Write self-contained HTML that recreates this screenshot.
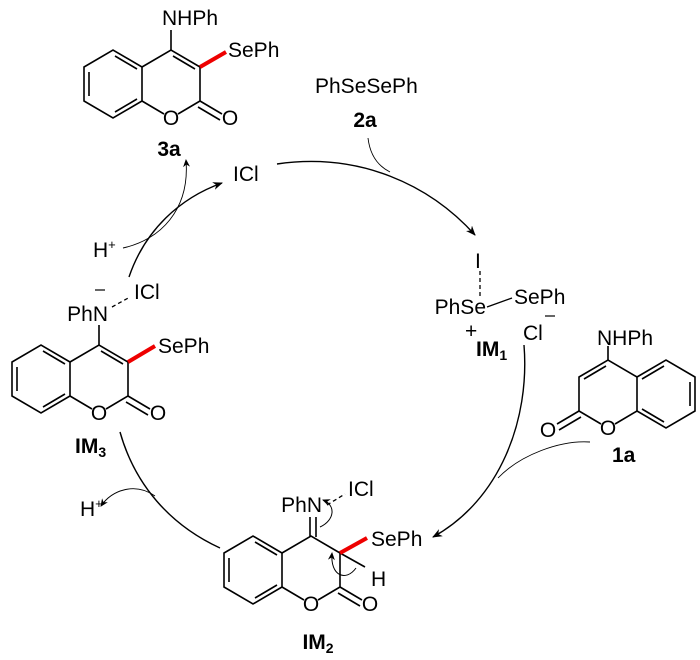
<!DOCTYPE html>
<html><head><meta charset="utf-8"><style>
html,body{margin:0;padding:0;background:#fff;}
svg{display:block;}
text{font-family:"Liberation Sans",Arial,sans-serif;font-size:21px;fill:#000;}
.b{font-weight:bold;}
</style></head><body>
<svg width="700" height="660" viewBox="0 0 700 660" xmlns="http://www.w3.org/2000/svg">
<defs>
<marker id="ah" markerWidth="10" markerHeight="8" refX="9" refY="4" orient="auto" markerUnits="userSpaceOnUse">
<path d="M0,0 L10,4 L0,8 L3,4 Z" fill="#000"/></marker>
<marker id="ahs" markerWidth="8" markerHeight="7" refX="7" refY="3.5" orient="auto" markerUnits="userSpaceOnUse">
<path d="M0,0 L8,3.5 L0,7 L2.5,3.5 Z" fill="#000"/></marker>
<g id="core" fill="none" stroke="#000" stroke-width="1.6">
<path d="M0,0 L0,34 L-29,51 L-58,34 L-58,0 L-29,-17 Z"/>
<path d="M-53,5 L-53,29 M-27,-11 L-5,2 M-5,32 L-27,45"/>
<path d="M0,0 L29,-17 L58,0 L58,34 L36,47 M22,47 L0,34"/>
<path d="M58,34 L80,47 M56,40 L78,53"/>
</g>
</defs>

<!-- 3a -->
<use href="#core" x="142" y="67"/>
<path d="M173,56 L195,69 M171,50 L171,30" stroke="#000" stroke-width="1.6" fill="none"/>
<path d="M200,67 L226,52" stroke="#e00" stroke-width="4"/>
<text x="171" y="125" text-anchor="middle">O</text>
<text x="230" y="125" text-anchor="middle">O</text>
<text x="162" y="25">NHPh</text>
<text x="228" y="57">SePh</text>
<text x="169" y="156" text-anchor="middle" class="b">3a</text>

<!-- 2a -->
<text x="315" y="93">PhSeSePh</text>
<text x="365" y="127" text-anchor="middle" class="b">2a</text>

<!-- ICl top -->
<text x="233" y="181">ICl</text>
<text x="93" y="257">H<tspan dy="-8" font-size="13">+</tspan></text>

<!-- IM1 -->
<text x="475" y="268">I</text>
<path d="M480,271 L480,298" stroke="#000" stroke-width="1.3" stroke-dasharray="4,3"/>
<text x="486" y="314" text-anchor="end">PhSe</text>
<path d="M487,307 L512,298" stroke="#000" stroke-width="1.3"/>
<text x="514" y="304">SePh</text>
<path d="M545,316 L555,316" stroke="#000" stroke-width="1.2"/>
<text x="523" y="340">Cl</text>
<text x="465" y="338" font-size="14">+</text>
<text x="476" y="356" class="b">IM<tspan dy="4" font-size="14">1</tspan></text>

<!-- 1a -->
<use href="#core" transform="translate(637,377) scale(-1,1)"/>
<path d="M606,366 L584,379 M608,360 L608,346" stroke="#000" stroke-width="1.6" fill="none"/>
<text x="608" y="435" text-anchor="middle">O</text>
<text x="548" y="437" text-anchor="middle">O</text>
<text x="597" y="345">NHPh</text>
<text x="612" y="462" class="b">1a</text>

<!-- IM3 -->
<use href="#core" x="70" y="362"/>
<path d="M101,351 L123,364 M99,345 L99,325" stroke="#000" stroke-width="1.6" fill="none"/>
<path d="M128,362 L155,346" stroke="#e00" stroke-width="4"/>
<text x="99" y="420" text-anchor="middle">O</text>
<text x="158" y="420" text-anchor="middle">O</text>
<text x="108" y="321" text-anchor="end">PhN</text>
<path d="M95,290 L105,290" stroke="#000" stroke-width="1.2"/>
<path d="M112,307 L130,297" stroke="#000" stroke-width="1.3" stroke-dasharray="4,3"/>
<text x="134" y="299">ICl</text>
<text x="158" y="353">SePh</text>
<text x="75" y="453" class="b">IM<tspan dy="4" font-size="14">3</tspan></text>

<!-- IM2 -->
<use href="#core" x="282" y="553"/>
<path d="M310,537 L310,517 M316,537 L316,517" stroke="#000" stroke-width="1.6"/>
<path d="M340,553 L365,567" stroke="#000" stroke-width="1.6"/>
<path d="M340,553 L367,538" stroke="#e00" stroke-width="4"/>
<text x="311" y="611" text-anchor="middle">O</text>
<text x="370" y="611" text-anchor="middle">O</text>
<text x="322" y="512" text-anchor="end">PhN</text>
<path d="M327,505 L345,494" stroke="#000" stroke-width="1.3" stroke-dasharray="4,3"/>
<text x="348" y="496">ICl</text>
<text x="371" y="546">SePh</text>
<text x="371" y="586">H</text>
<text x="318" y="649" text-anchor="middle" class="b">IM<tspan dy="4" font-size="14">2</tspan></text>
<text x="80" y="516">H<tspan dy="-8" font-size="13">+</tspan></text>
<!-- push arrows in IM2 -->
<path d="M320,527 C335,520 336,505 323,500" fill="none" stroke="#000" stroke-width="1" marker-end="url(#ahs)"/>
<path d="M356,568 C346,582 330,576 332,553" fill="none" stroke="#000" stroke-width="1" marker-end="url(#ahs)"/>

<!-- cycle arrows -->
<path d="M277,164 C360,152 430,185 475,235" fill="none" stroke="#000" stroke-width="1.4" marker-end="url(#ah)"/>
<path d="M368,138 C370,155 378,166 390,172" fill="none" stroke="#000" stroke-width="0.9"/>
<path d="M524,345 C530,420 500,500 433,537" fill="none" stroke="#000" stroke-width="1.4" marker-end="url(#ah)"/>
<path d="M590,442 C560,440 520,455 498,478" fill="none" stroke="#000" stroke-width="0.9"/>
<path d="M220,548 C170,525 135,485 120,432" fill="none" stroke="#000" stroke-width="1.4"/>
<path d="M155,496 C135,482 112,490 101,506" fill="none" stroke="#000" stroke-width="0.9" marker-end="url(#ahs)"/>
<path d="M129,277 C145,230 180,198 222,183" fill="none" stroke="#000" stroke-width="1.4" marker-end="url(#ah)"/>
<path d="M123,248 C160,240 190,210 186,160" fill="none" stroke="#000" stroke-width="0.9" marker-end="url(#ahs)"/>
</svg>
</body></html>
